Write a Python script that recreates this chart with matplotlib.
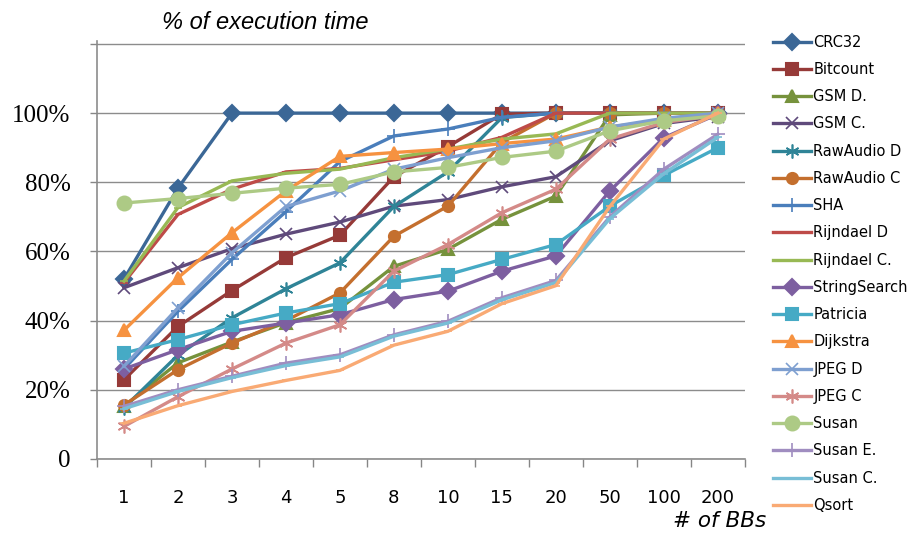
import numpy as np
import matplotlib
matplotlib.use("Agg")
import matplotlib.pyplot as plt

categories = ["1", "2", "3", "4", "5", "8", "10", "15", "20", "50", "100", "200"]

crc32 = [52, 78.3, 100, 100, 100, 100, 100, 100, 100, 100, 100, 100]
bitcount = [22.9, 38.3, 48.7, 58.2, 64.7, 81.6, 90.3, 99.7, 100, 100, 100, 100]
gsm_d = [15.2, 27.8, 33.8, 39.4, 43.5, 55.7, 60.6, 69.3, 76, 99.5, 100, 100]
gsm_c = [49.5, 55.3, 60.8, 65, 68.5, 73.1, 75, 78.7, 81.6, 92, 97, 99]
rawaudio_d = [14.8, 30, 40.8, 49.2, 56.7, 73, 83, 98.7, 100, 100, 100, 100]
rawaudio_c = [15.6, 25.8, 33.5, 40, 48, 64.4, 73.1, 91.5, 100, 100, 100, 100]
sha = [26, 42.7, 57.7, 71.5, 86, 93.4, 95.4, 98.8, 100, 100, 100, 100]
rijndael_d = [51, 70.7, 78, 83, 84, 86.5, 89, 93, 100, 100, 100, 100]
rijndael_c = [51.4, 72.7, 80.4, 82.6, 83.8, 87.1, 89.6, 92.5, 94, 100, 100, 100]
stringsearch = [26, 31.6, 36.9, 39.3, 41.7, 46.1, 48.5, 54.3, 58.7, 77.5, 92.9, 99.7]
patricia = [30.6, 34.5, 38.8, 42.2, 44.9, 51.1, 53.3, 57.7, 62, 73.1, 82, 90]
dijkstra = [37.2, 52.4, 65.4, 77.5, 87.5, 88.6, 89.6, 91.2, 92.5, 96, 98, 100]
jpeg_d = [26.8, 43.7, 59.6, 73, 77.5, 83.8, 87.1, 90, 92, 96, 98.5, 100]
jpeg_c = [9.4, 18, 26, 33.5, 38.8, 54.3, 62, 71.2, 78, 92.5, 97.3, 99.4]
susan = [74, 75.3, 76.8, 78.3, 79.4, 83, 84.3, 87.2, 89, 94.9, 97.8, 99.2]
susan_e = [15.2, 20, 23.9, 27.7, 30.1, 35.9, 39.8, 46.6, 51.6, 70, 83.8, 93.9]
susan_c = [14.5, 19.5, 23.5, 27, 29.5, 35.5, 39.3, 46, 51, 69.5, 82.5, 93]
qsort = [10.3, 15.4, 19.5, 22.7, 25.6, 32.9, 36.9, 44.9, 50.1, 73, 92.5, 100]

series = [
    ("CRC32", crc32, "#3B6796", "D", 8),
    ("Bitcount", bitcount, "#963A38", "s", 8),
    ("GSM D.", gsm_d, "#76923C", "^", 8),
    ("GSM C.", gsm_c, "#5F4A7B", "x", 9),
    ("RawAudio D", rawaudio_d, "#2F8497", (6, 2, 0), 10),
    ("RawAudio C", rawaudio_c, "#C46F2E", "o", 8),
    ("SHA", sha, "#4A7EBB", "+", 10),
    ("Rijndael D", rijndael_d, "#BE4B48", "_", 6),
    ("Rijndael C.", rijndael_c, "#98B954", "_", 6),
    ("StringSearch", stringsearch, "#7D5FA0", "D", 8),
    ("Patricia", patricia, "#46AAC5", "s", 9),
    ("Dijkstra", dijkstra, "#F69240", "^", 9),
    ("JPEG D", jpeg_d, "#7E9FD0", "x", 9),
    ("JPEG C", jpeg_c, "#D48A88", (6, 2, 0), 10),
    ("Susan", susan, "#ADCA85", "o", 10),
    ("Susan E.", susan_e, "#A08DC0", "+", 10),
    ("Susan C.", susan_c, "#78BED6", "_", 6),
    ("Qsort", qsort, "#F9AA74", "_", 6),
]

fig = plt.figure(figsize=(9.15, 5.33), dpi=100)
ax = fig.add_axes([0.106, 0.139, 0.708, 0.785])

x = np.arange(len(categories))
for name, vals, color, marker, ms in series:
    thin = marker in ("_", "x", "+") or isinstance(marker, tuple)
    ax.plot(x, vals, color=color, lw=2.4, marker=marker, markersize=ms,
            markeredgewidth=1.2 if thin else 1.5,
            markerfacecolor=color, markeredgecolor=color, label=name)

ax.set_xlim(-0.5, len(categories) - 0.5)
ax.set_ylim(0, 121)
ax.set_yticks([0, 20, 40, 60, 80, 100, 120])
ax.set_yticklabels(["0", "20%", "40%", "60%", "80%", "100%", ""],
                   family="Liberation Serif", fontsize=18)
ax.set_xticks(x)
ax.set_xticklabels(categories, fontsize=13)
ax.set_xticks(np.arange(-0.5, len(categories)), minor=True)
ax.tick_params(axis="x", which="major", length=0, pad=22)
ax.tick_params(axis="x", which="minor", length=6, color="#868686", width=1)
ax.tick_params(axis="y", length=5, color="#868686", width=1, pad=14)

ax.grid(True, axis="y", color="#8C8C8C", lw=1)
ax.set_axisbelow(True)
for side in ("top", "right"):
    ax.spines[side].set_visible(False)
for side in ("left", "bottom"):
    ax.spines[side].set_color("#8C8C8C")
    ax.spines[side].set_linewidth(1.2)

fig.text(0.290, 0.958, "% of execution time", family="Liberation Sans",
         style="italic", fontsize=17, ha="center", va="center")
fig.text(0.787, 0.022, "# of BBs", style="italic", fontsize=15.5,
         ha="center", va="center")

fig.legend(loc="upper left", bbox_to_anchor=(0.838, 0.946), frameon=False,
           fontsize=10.5, handlelength=2.6, handletextpad=0.2,
           labelspacing=0.84, borderaxespad=0)

fig.savefig("out.png", dpi=100)
